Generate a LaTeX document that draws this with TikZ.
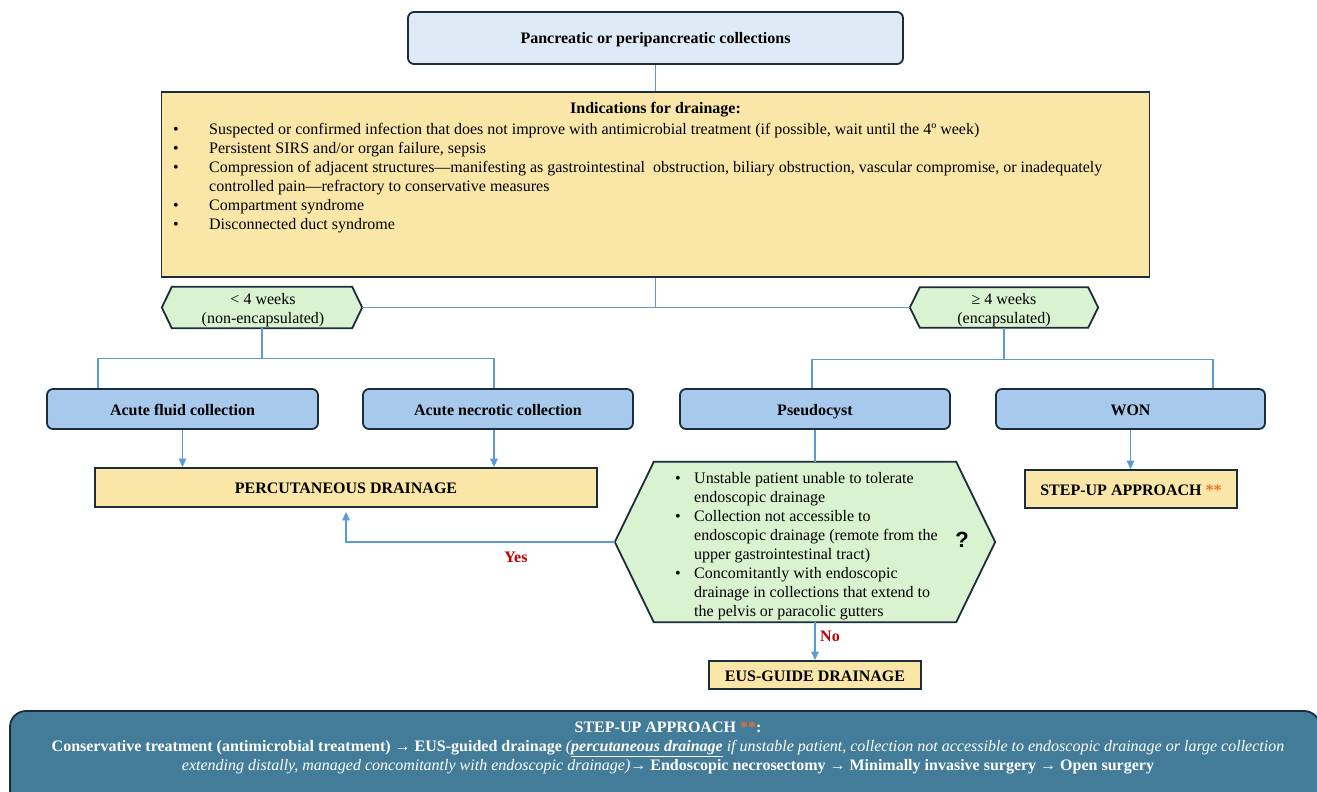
\documentclass[tikz,border=0pt]{standalone}
\usepackage{fontspec}
\setmainfont{Liberation Serif}
\newfontfamily\qfont{Liberation Sans}
\usetikzlibrary{arrows.meta,backgrounds,calc}
\definecolor{bord}{HTML}{1B2C3B}
\definecolor{topfill}{HTML}{DEEBF7}
\definecolor{gold}{HTML}{FAE7A7}
\definecolor{bluebox}{HTML}{A6C9EC}
\definecolor{greenfill}{HTML}{D9F2D0}
\definecolor{conncol}{HTML}{5B9BD5}
\definecolor{stepblue}{HTML}{427C99}
\definecolor{redtxt}{HTML}{C00000}
\definecolor{orangetxt}{HTML}{E97132}
\begin{document}
\begin{tikzpicture}[x=1pt,y=-1pt,
  every node/.style={font=\fontsize{16}{19}\selectfont, inner sep=0pt},
  one/.style={text height=12pt, text depth=0pt},
  rbox/.style={one, draw=bord, line width=1.8pt, rounded corners=6pt},
  sqbox/.style={one, draw=bord, line width=1.8pt},
  hexst/.style={draw=bord, line width=1.8pt, fill=greenfill, line join=miter},
  conn/.style={draw=conncol, line width=1.3pt},
  arr/.style={conn, -{Triangle[width=7.5pt,length=8.5pt]}},
  lbl/.style={one, font=\fontsize{16}{19}\selectfont\bfseries, text=redtxt}
]
\useasboundingbox (0,0) rectangle (1317,792);

% top
\node[rbox, fill=topfill, minimum width=495, minimum height=52] (top) at (655.5,38) {\bfseries Pancreatic or peripancreatic collections};

% indications
\node[sqbox, fill=gold, minimum width=988, minimum height=185] (ind) at (655.5,184.5) {};
\node[one] (indt) at (655.5,107.5) {\bfseries Indications for drainage:};
\node[anchor=north west, align=left] (indl) at (173,120.5) {%
\begin{tabular}{@{}p{36pt}@{}l@{}}
\textbullet & Suspected or confirmed infection that does not improve with antimicrobial treatment (if possible, wait until the 4º week)\\
\textbullet & Persistent SIRS and/or organ failure, sepsis\\
\textbullet & Compression of adjacent structures—manifesting as gastrointestinal \ obstruction, biliary obstruction, vascular compromise, or inadequately\\
 & controlled pain—refractory to conservative measures\\
\textbullet & Compartment syndrome\\
\textbullet & Disconnected duct syndrome
\end{tabular}};

% time hexagons
\node[minimum width=200, minimum height=41] (lt) at (262,307.5) {};
\node[align=center] (ltt) at (263,310.5) {< 4 weeks\\(non-encapsulated)};
\node[minimum width=188, minimum height=40] (ge) at (1004,307.5) {};
\node[align=center] (get) at (1004,310) {≥ 4 weeks\\(encapsulated)};

% collection boxes
\node[rbox, fill=bluebox, minimum width=271, minimum height=40] (af) at (182.5,409) {\bfseries Acute fluid collection};
\node[rbox, fill=bluebox, minimum width=270, minimum height=40] (an) at (498,409) {\bfseries Acute necrotic collection};
\node[rbox, fill=bluebox, minimum width=270, minimum height=40] (ps) at (815,409) {\bfseries Pseudocyst};
\node[rbox, fill=bluebox, minimum width=269, minimum height=40] (won) at (1130.5,409) {\bfseries WON};

% outcome boxes
\node[sqbox, fill=gold, minimum width=502, minimum height=39] (pd) at (346,487.5) {\bfseries PERCUTANEOUS DRAINAGE};
\node[sqbox, fill=gold, minimum width=212, minimum height=38] (su) at (1131,489) {\bfseries STEP-UP APPROACH \textcolor{orangetxt}{**}};

% decision hexagon
\node[minimum width=380, minimum height=160] (hx) at (805,542) {};
\node[anchor=north west, align=left] (hxl) at (675,469.5) {%
\begin{tabular}{@{}p{19pt}@{}l@{}}
\textbullet & Unstable patient unable to tolerate\\
 & endoscopic drainage\\
\textbullet & Collection not accessible to\\
 & endoscopic drainage (remote from the\\
 & upper gastrointestinal tract)\\
\textbullet & Concomitantly with endoscopic\\
 & drainage in collections that extend to\\
 & the pelvis or paracolic gutters
\end{tabular}};
\node[font=\qfont\fontsize{22}{24}\selectfont\bfseries] (qm) at (962,540) {?};

\node[sqbox, fill=gold, minimum width=212, minimum height=28] (eus) at (815,675) {\bfseries EUS-GUIDE DRAINAGE};

% bottom step-up box
\node[draw=bord, line width=1.8pt, rounded corners=16pt, fill=stepblue, minimum width=1310, minimum height=96] (sb) at (665,759) {};
\node[one, text=white] (sb1) at (668,726) {\bfseries STEP-UP APPROACH \textcolor{orangetxt}{**}:};
\node[one, text=white] (sb2) at (668,745) {\bfseries Conservative treatment (antimicrobial treatment) → EUS-guided drainage \mdseries\itshape (\underline{\bfseries percutaneous drainage} if unstable patient, collection not accessible to endoscopic drainage or large collection};
\node[one, text=white] (sb3) at (668,764) {\itshape extending distally, managed concomitantly with endoscopic drainage)\upshape\bfseries→ Endoscopic necrosectomy → Minimally invasive surgery → Open surgery};

% hexagon outlines
\begin{scope}[on background layer]
\draw[hexst] (lt.west) -- ([xshift=10]lt.north west) -- ([xshift=-10]lt.north east) -- (lt.east) -- ([xshift=-10]lt.south east) -- ([xshift=10]lt.south west) -- cycle;
\draw[hexst] (ge.west) -- ([xshift=10]ge.north west) -- ([xshift=-10]ge.north east) -- (ge.east) -- ([xshift=-10]ge.south east) -- ([xshift=10]ge.south west) -- cycle;
\draw[hexst] (hx.west) -- ([xshift=39]hx.north west) -- ([xshift=-39]hx.north east) -- (hx.east) -- ([xshift=-39]hx.south east) -- ([xshift=39]hx.south west) -- cycle;
\end{scope}

% connectors
\draw[conn] (top.south) -- (ind.north);
\draw[conn] (ind.south) -- (ind.south |- lt.east);
\draw[conn] (lt.east) -- (ge.west);
\draw[conn] (lt.south) -- ++(0,30.5) coordinate (ltj);
\draw[conn] (ltj) -| ([xshift=-84.5]af.north);
\draw[conn] (ltj) -| ([xshift=-4]an.north);
\draw[conn] (ge.south) -- ++(0,31.5) coordinate (gej);
\draw[conn] (gej) -| ([xshift=-3]ps.north);
\draw[conn] (gej) -| ([xshift=82.5]won.north);
\draw[arr] (af.south) -- (af.south |- pd.north);
\draw[arr] ([xshift=-4]an.south) -- ([xshift=-4]an.south |- pd.north);
\draw[arr] (won.south) -- (won.south |- su.north);
\draw[conn] (ps.south) -- (ps.south |- hx.north);
\draw[arr, shorten >=4pt] (hx.west) -| (pd.south);
\draw[arr] (eus.north |- hx.south) -- (eus.north);
\node[lbl] (yes) at (516,556) {Yes};
\node[lbl] (no) at (830,635) {No};
\end{tikzpicture}
\end{document}
